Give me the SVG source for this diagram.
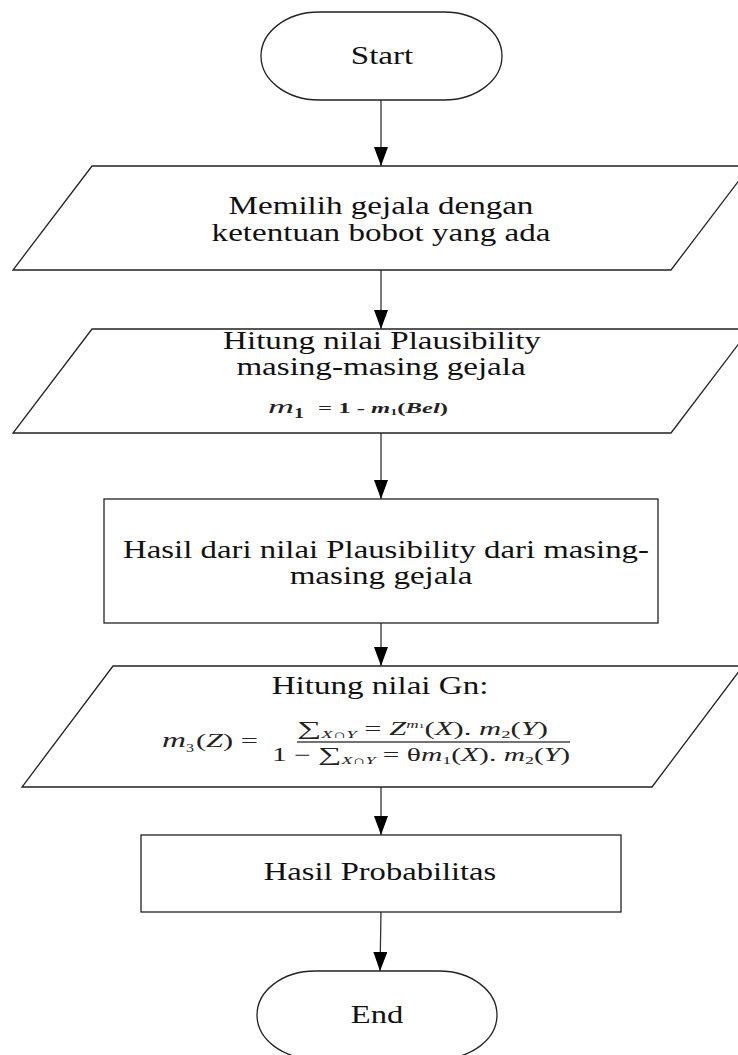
<svg xmlns="http://www.w3.org/2000/svg" width="738" height="1055" viewBox="0 0 738 1055">
  <defs>
    <marker id="arrow" markerWidth="19" markerHeight="14" refX="19" refY="7" orient="auto" markerUnits="userSpaceOnUse">
      <path d="M0,0 L19,7 L0,14 Z" fill="#000"/>
    </marker>
    <style>
      .shape { fill: #fff; stroke: #222; stroke-width: 1.3; }
      .edge { stroke: #333; stroke-width: 1.3; fill: none; marker-end: url(#arrow); }
      .t { font-family: "Liberation Serif", "Times New Roman", serif; font-size: 24.5px; fill: #111; text-anchor: middle; }
      .m { font-family: "Liberation Serif", "Times New Roman", serif; font-style: italic; fill: #222; }
      .up { font-style: normal; }
    </style>
  </defs>

  <rect width="738" height="1055" fill="#fff"/>

  <!-- connectors -->
  <g id="connectors">
    <line class="edge" x1="381" y1="100" x2="381" y2="166"/>
    <line class="edge" x1="381" y1="270" x2="381" y2="329"/>
    <line class="edge" x1="381" y1="433" x2="381" y2="499"/>
    <line class="edge" x1="381" y1="623" x2="381" y2="666"/>
    <line class="edge" x1="381" y1="787" x2="381" y2="835"/>
    <line class="edge" x1="381" y1="912" x2="380" y2="971"/>
  </g>

  <!-- start terminator -->
  <g id="start">
    <rect class="shape" x="261" y="12" width="241" height="88" rx="58" ry="44"/>
    <text class="t" transform="translate(382 64) scale(1.35 1)">Start</text>
  </g>

  <!-- input: choose symptoms -->
  <g id="pilih-gejala">
    <polygon class="shape" points="92,166 750,166 671,270 13,270"/>
    <text class="t" transform="translate(381 214) scale(1.35 1)">Memilih gejala dengan</text>
    <text class="t" transform="translate(381 241) scale(1.35 1)">ketentuan bobot yang ada</text>
  </g>

  <!-- input: plausibility per symptom -->
  <g id="hitung-plausibility">
    <polygon class="shape" points="92,329 750,329 671,433 13,433"/>
    <text class="t" transform="translate(382 349) scale(1.35 1)">Hitung nilai Plausibility</text>
    <text class="t" transform="translate(381 375) scale(1.35 1)">masing-masing gejala</text>
    <text class="m" x="268" y="413" font-size="19" textLength="26" lengthAdjust="spacingAndGlyphs">m</text>
    <text class="m up" x="294" y="418" font-size="14" font-weight="bold" textLength="10" lengthAdjust="spacingAndGlyphs">1</text>
    <text class="m" x="318" y="413" font-size="14" font-weight="bold" textLength="130" lengthAdjust="spacingAndGlyphs"><tspan class="up">= 1 - </tspan>m<tspan class="up" font-size="8" dy="2">1</tspan><tspan dy="-2" class="up">(</tspan>Bel<tspan class="up">)</tspan></text>
  </g>

  <!-- process: plausibility result -->
  <g id="hasil-plausibility">
    <rect class="shape" x="104" y="499" width="554" height="124"/>
    <text class="t" transform="translate(386 558) scale(1.34 1)">Hasil dari nilai Plausibility dari masing-</text>
    <text class="t" transform="translate(381 584) scale(1.35 1)">masing gejala</text>
  </g>

  <!-- input: combination value Gn -->
  <g id="hitung-gn">
    <polygon class="shape" points="113,666 743,666 652,787 22,787"/>
    <text class="t" transform="translate(380 694) scale(1.35 1)">Hitung nilai Gn:</text>
    <text class="m" x="162" y="747" font-size="20" textLength="24" lengthAdjust="spacingAndGlyphs">m</text>
    <text class="m up" x="186" y="752" font-size="13" textLength="8" lengthAdjust="spacingAndGlyphs">3</text>
    <text class="m" x="196" y="747" font-size="19" textLength="62" lengthAdjust="spacingAndGlyphs"><tspan class="up">(</tspan>Z<tspan class="up">) =</tspan></text>
    <text class="m" x="297" y="735" font-size="18" textLength="251" lengthAdjust="spacingAndGlyphs"><tspan class="up" font-size="20">∑</tspan><tspan font-size="11" dy="3">X∩Y</tspan><tspan class="up" dy="-3"> = </tspan>Z<tspan font-size="10" dy="-7">m</tspan><tspan font-size="7" class="up">1</tspan><tspan class="up" dy="7">(</tspan>X<tspan class="up">). </tspan>m<tspan class="up" font-size="11" dy="3">2</tspan><tspan class="up" dy="-3">(</tspan>Y<tspan class="up">)</tspan></text>
    <line x1="297" y1="742" x2="570" y2="742" stroke="#444" stroke-width="1.6"/>
    <text class="m" x="272" y="761" font-size="18" textLength="298" lengthAdjust="spacingAndGlyphs"><tspan class="up">1 − </tspan><tspan class="up" font-size="20">∑</tspan><tspan font-size="11" dy="3">X∩Y</tspan><tspan class="up" dy="-3"> = θ</tspan>m<tspan class="up" font-size="11" dy="3">1</tspan><tspan class="up" dy="-3">(</tspan>X<tspan class="up">). </tspan>m<tspan class="up" font-size="11" dy="3">2</tspan><tspan class="up" dy="-3">(</tspan>Y<tspan class="up">)</tspan></text>
  </g>

  <!-- process: probability result -->
  <g id="hasil-probabilitas">
    <rect class="shape" x="141" y="835" width="480" height="77"/>
    <text class="t" transform="translate(380 880) scale(1.33 1)">Hasil Probabilitas</text>
  </g>

  <!-- end terminator -->
  <g id="end">
    <rect class="shape" x="257" y="971" width="240" height="88" rx="58" ry="44"/>
    <text class="t" transform="translate(377 1023) scale(1.33 1)">End</text>
  </g>
</svg>
